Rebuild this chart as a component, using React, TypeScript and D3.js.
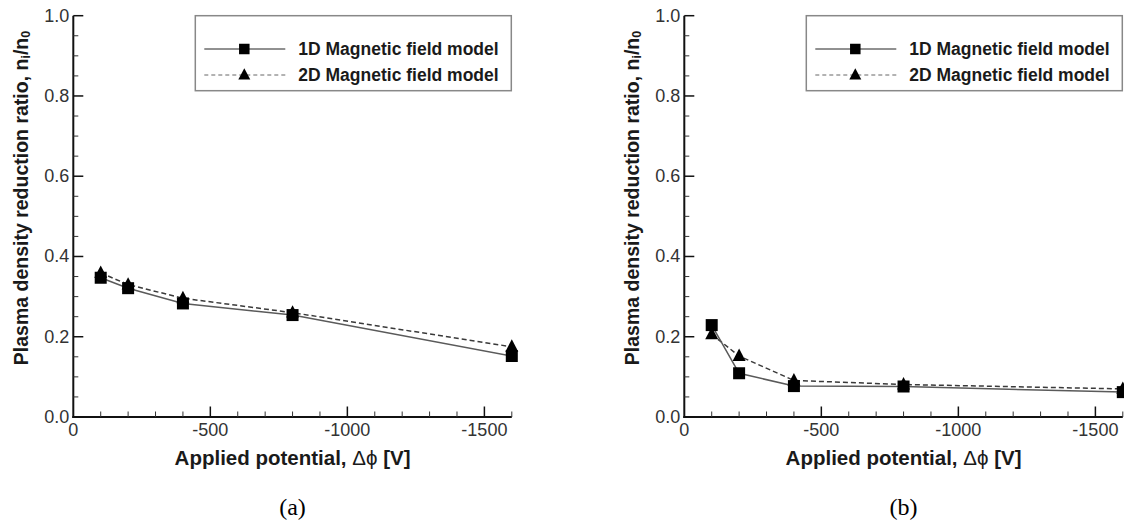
import React from "react";
import * as d3 from "d3";

const potentials = [-100, -200, -400, -800, -1600];
const panelA1D = [0.347, 0.321, 0.283, 0.254, 0.152];
const panelA2D = [0.359, 0.33, 0.296, 0.26, 0.175];
const panelB1D = [0.229, 0.109, 0.077, 0.076, 0.062];
const panelB2D = [0.206, 0.152, 0.091, 0.081, 0.07];
const seriesNames = ["1D Magnetic field model", "2D Magnetic field model"];
const captions = ["(a)", "(b)"];
const xMajorTicks = [0, -500, -1000, -1500];
const yMajorTicks = [0, 0.2, 0.4, 0.6, 0.8, 1.0];

const W = 1124;
const H = 521;
const SANS = "Arial, 'Liberation Sans', Helvetica, sans-serif";
const SERIF = "'Times New Roman', 'Liberation Serif', serif";

function Square({ x, y, s }: { x: number; y: number; s: number }) {
  return <rect x={x - s / 2} y={y - s / 2} width={s} height={s} fill="#000" />;
}
function Triangle({ x, y, s }: { x: number; y: number; s: number }) {
  const h = s * 0.95;
  return (
    <path
      d={`M${x},${y - h * 0.6} L${x + s / 2},${y + h * 0.4} L${x - s / 2},${y + h * 0.4} Z`}
      fill="#000"
    />
  );
}

function Panel({
  left,
  d1,
  d2,
  caption,
}: {
  left: number;
  d1: number[];
  d2: number[];
  caption: string;
}) {
  const x = d3.scaleLinear().domain([0, -1600]).range([left, left + 438.5]);
  const y = d3.scaleLinear().domain([0, 1]).range([417, 15.7]);
  const xMinor = d3.range(-100, -1601, -100).filter((v) => v % 500 !== 0);
  const yMinor = d3.range(0.05, 1.0, 0.05).filter((v) => Math.abs(v * 5 - Math.round(v * 5)) > 1e-6);
  const line = d3
    .line<number>()
    .x((_, i) => x(potentials[i]))
    .y((v) => y(v));
  const x0 = x(0);
  const y0 = y(0);
  const xMid = (x(0) + x(-1600)) / 2;
  const yMid = 198;
  const legL = left + 122;
  const legR = left + 438;
  const row1 = 49;
  const row2 = 75;
  return (
    <g>
      {/* data lines */}
      <path d={line(d2) || ""} fill="none" stroke="#3a3a3a" strokeWidth={1.5} strokeDasharray="5,3" />
      <path d={line(d1) || ""} fill="none" stroke="#5a5a5a" strokeWidth={1.5} />
      {d2.map((v, i) => (
        <Triangle key={"t" + i} x={x(potentials[i])} y={y(v)} s={13} />
      ))}
      {d1.map((v, i) => (
        <Square key={"s" + i} x={x(potentials[i])} y={y(v)} s={12} />
      ))}
      {/* axes */}
      <line x1={x0} y1={y(1)} x2={x0} y2={y0 + 1} stroke="#111" strokeWidth={2} />
      <line x1={x0 - 1} y1={y0} x2={x(-1600)} y2={y0} stroke="#111" strokeWidth={2} />
      {yMajorTicks.map((t) => (
        <g key={"ym" + t}>
          <line x1={x0} x2={x0 + 10} y1={y(t)} y2={y(t)} stroke="#111" strokeWidth={1.5} />
          <text
            x={x0 - 4}
            y={y(t)}
            textAnchor="end"
            dominantBaseline="central"
            fontFamily={SANS}
            fontSize={18}
            fill="#333"
          >
            {d3.format(".1f")(t)}
          </text>
        </g>
      ))}
      {yMinor.map((t) => (
        <line key={"yn" + t} x1={x0} x2={x0 + 5} y1={y(t)} y2={y(t)} stroke="#333" strokeWidth={1} />
      ))}
      {xMajorTicks.map((t) => (
        <g key={"xm" + t}>
          {t !== 0 && <line x1={x(t)} x2={x(t)} y1={y0} y2={y0 - 10.5} stroke="#111" strokeWidth={1.5} />}
          <text
            x={x(t)}
            y={y0 + 13}
            textAnchor="middle"
            dominantBaseline="central"
            fontFamily={SANS}
            fontSize={18}
            fill="#333"
          >
            {String(t)}
          </text>
        </g>
      ))}
      {xMinor.map((t) => (
        <line key={"xn" + t} x1={x(t)} x2={x(t)} y1={y0} y2={y0 - 5.5} stroke="#333" strokeWidth={1} />
      ))}
      {/* axis titles */}
      <text
        x={xMid}
        y={457}
        textAnchor="middle"
        dominantBaseline="central"
        fontFamily={SANS}
        fontSize={20.5}
        fontWeight="bold"
        fill="#1a1a1a"
      >
        Applied potential, <tspan fontWeight="normal">Δϕ</tspan> [V]
      </text>
      <text
        transform={`translate(${left - 52},${yMid}) rotate(-90)`}
        textAnchor="middle"
        dominantBaseline="central"
        fontFamily={SANS}
        fontSize={19.5}
        fontWeight="bold"
        fill="#1a1a1a"
      >
        Plasma density reduction ratio, n
        <tspan fontSize={12.5} dy={5}>i</tspan>
        <tspan dy={-5}>/n</tspan>
        <tspan fontSize={12.5} dy={5}>0</tspan>
      </text>
      {/* caption */}
      <text
        x={xMid}
        y={507}
        textAnchor="middle"
        dominantBaseline="central"
        fontFamily={SERIF}
        fontSize={24}
        fill="#000"
      >
        {caption}
      </text>
      {/* legend */}
      <rect x={legL} y={15.7} width={legR - legL} height={75} fill="#fff" stroke="#888" strokeWidth={1.5} />
      <line x1={legL + 9} x2={legL + 90} y1={row1} y2={row1} stroke="#222" strokeWidth={1} />
      <Square x={legL + 49} y={row1} s={10.5} />
      <line x1={legL + 9} x2={legL + 90} y1={row2} y2={row2} stroke="#666" strokeWidth={1} strokeDasharray="4,3" />
      <Triangle x={legL + 49} y={row2} s={12} />
      {seriesNames.map((n, i) => (
        <text
          key={n}
          x={legL + 103}
          y={i === 0 ? row1 : row2}
          dominantBaseline="central"
          fontFamily={SANS}
          fontSize={17.5}
          fontWeight="bold"
          fill="#1a1a1a"
        >
          {n}
        </text>
      ))}
    </g>
  );
}

export default function App() {
  return (
    <svg
      width={W}
      height={H}
      style={{ position: "absolute", left: 0, top: 0, display: "block", background: "#fff" }}
    >
      <rect x={0} y={0} width={W} height={H} fill="#fff" />
      <Panel left={73.3} d1={panelA1D} d2={panelA2D} caption={captions[0]} />
      <Panel left={684.3} d1={panelB1D} d2={panelB2D} caption={captions[1]} />
    </svg>
  );
}
